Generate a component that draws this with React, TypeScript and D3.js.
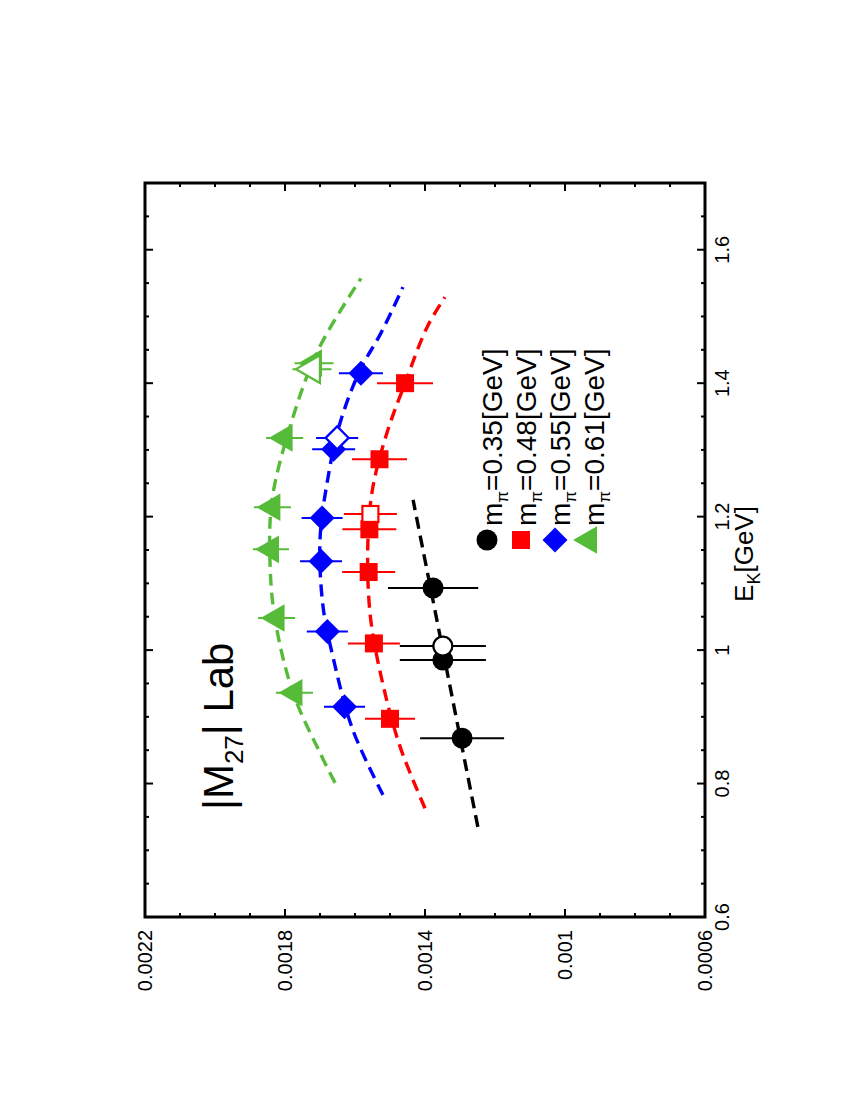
import * as d3 from 'd3'

// plot box in the un-rotated frame (E_K along x, |M27| along y)
const W = 734
const H = 560

const eTicks = [0.6, 0.8, 1, 1.2, 1.4, 1.6]
const eTickLabels = ['0.6', '0.8', '1', '1.2', '1.4', '1.6']
const mTicks = [0.0006, 0.001, 0.0014, 0.0018, 0.0022]
const mTickLabels = ['0.0006', '0.001', '0.0014', '0.0018', '0.0022']

// m_pi = 0.35
const e35 = [0.868, 0.985, 1.093]
const m35 = [0.001294, 0.001349, 0.001377]
const err35 = [0.00012, 0.000123, 0.000129]
const e35Open = [1.006]
const m35Open = [0.001349]
const err35Open = [0.000123]
const fitE35 = [0.735, 1.225]
const fitM35 = [0.001249, 0.001434]

// m_pi = 0.48
const e48 = [0.897, 1.01, 1.117, 1.181, 1.286, 1.4]
const m48 = [0.0015, 0.001546, 0.001561, 0.001559, 0.00153, 0.001457]
const err48 = [0.0000714, 0.0000743, 0.0000757, 0.0000771, 0.0000786, 0.00008]
const e48Open = [1.204]
const m48Open = [0.001556]
const err48Open = [0.0000757]
const fitE48 = [0.763, 0.855, 0.955, 1.055, 1.165, 1.244, 1.325, 1.4, 1.484, 1.529]
const fitM48 = [0.0014, 0.001471, 0.001523, 0.001557, 0.001563, 0.001549, 0.001509, 0.001457, 0.001394, 0.001343]

// m_pi = 0.55
const e55 = [0.915, 1.028, 1.133, 1.198, 1.301, 1.415]
const m55 = [0.00163, 0.001679, 0.001697, 0.001694, 0.001661, 0.001583]
const err55 = [0.0000586, 0.0000586, 0.00006, 0.0000586, 0.0000614, 0.0000629]
const e55Open = [1.318]
const m55Open = [0.001651]
const err55Open = [0.00006]
const fitE55 = [0.783, 0.88, 0.99, 1.064, 1.165, 1.259, 1.34, 1.419, 1.475, 1.544]
const fitM55 = [0.00152, 0.001606, 0.001663, 0.001691, 0.0017, 0.001677, 0.001643, 0.001586, 0.001526, 0.001463]

// m_pi = 0.61
const e61 = [0.936, 1.048, 1.151, 1.214, 1.318, 1.43]
const m61 = [0.001773, 0.001824, 0.00184, 0.001836, 0.001801, 0.001717]
const err61 = [0.0000529, 0.0000529, 0.0000514, 0.0000529, 0.0000529, 0.0000557]
const e61Open = [1.421]
const m61Open = [0.001723]
const err61Open = [0.0000557]
const fitE61 = [0.801, 0.846, 0.936, 1.048, 1.135, 1.225, 1.334, 1.449, 1.557]
const fitM61 = [0.001657, 0.0017, 0.001777, 0.001829, 0.001843, 0.001837, 0.001786, 0.001706, 0.001583]

const legendLabels = ['0.35', '0.48', '0.55', '0.61']

type Shape = 'circle' | 'square' | 'diamond' | 'triangle'

const zip = (a: number[], b: number[], c: number[]) => a.map((v, i) => ({ e: v, m: b[i], err: c[i] }))
const pairs = (a: number[], b: number[]) => a.map((v, i) => [v, b[i]] as [number, number])

const series = [
  { shape: 'circle' as Shape, color: '#000000', pts: zip(e35, m35, err35), open: zip(e35Open, m35Open, err35Open), fit: pairs(fitE35, fitM35) },
  { shape: 'square' as Shape, color: '#ff0000', pts: zip(e48, m48, err48), open: zip(e48Open, m48Open, err48Open), fit: pairs(fitE48, fitM48) },
  { shape: 'diamond' as Shape, color: '#0000ff', pts: zip(e55, m55, err55), open: zip(e55Open, m55Open, err55Open), fit: pairs(fitE55, fitM55) },
  { shape: 'triangle' as Shape, color: '#57bb3a', pts: zip(e61, m61, err61), open: zip(e61Open, m61Open, err61Open), fit: pairs(fitE61, fitM61) },
]

const triPath = d3.symbol(d3.symbolTriangle, 330)() as string

function Marker({ shape, cx, cy, color, open }: { shape: Shape; cx: number; cy: number; color: string; open?: boolean }) {
  const fill = open ? '#ffffff' : color
  const stroke = open ? color : 'none'
  const sw = open ? 2.2 : 0
  const t = `translate(${cx},${cy})`
  if (shape === 'circle') return <circle cx={cx} cy={cy} r={open ? 9.5 : 10.5} fill={fill} stroke={stroke} strokeWidth={sw} />
  if (shape === 'square') {
    const s = open ? 16 : 18
    return <rect x={cx - s / 2} y={cy - s / 2} width={s} height={s} fill={fill} stroke={stroke} strokeWidth={sw} />
  }
  if (shape === 'diamond') {
    const r = open ? 11.5 : 12.5
    return <path transform={t} d={`M0,${-r}L${r},0L0,${r}L${-r},0Z`} fill={fill} stroke={stroke} strokeWidth={sw} />
  }
  return <path transform={t} d={triPath} fill={fill} stroke={stroke} strokeWidth={sw} />
}

export default function App() {
  const x = d3.scaleLinear().domain([0.6, 1.7]).range([0, W])
  const y = d3.scaleLinear().domain([0.0006, 0.0022]).range([H, 0])
  const line = d3.line<[number, number]>()
    .x(d => x(d[0]))
    .y(d => y(d[1]))
    .curve(d3.curveCatmullRom.alpha(0.5))

  const eMinor = d3.range(0.6, 1.7001, 0.05)
  const mMinor = d3.range(0.0006, 0.00220001, 0.0001)
  const isMajorE = (v: number) => eTicks.some(t => Math.abs(t - v) < 1e-6)
  const isMajorM = (v: number) => mTicks.some(t => Math.abs(t - v) < 1e-9)

  const font = 'Liberation Sans, Arial, Helvetica, sans-serif'

  return (
    <svg width={850} height={1100} style={{ position: 'absolute', left: 0, top: 0, background: '#fff' }} fontFamily={font}>
      <g transform="translate(145,917) rotate(-90)">
        {/* fits */}
        {series.map((s, i) => (
          <path key={`fit${i}`} d={line(s.fit) as string} fill="none" stroke={s.color}
            strokeWidth={3.4} strokeDasharray="12 7" />
        ))}

        {/* error bars + markers, filled first, open on top */}
        {series.map((s, i) => (
          <g key={`s${i}`}>
            {[...s.pts, ...s.open].map((p, j) => (
              <line key={j} x1={x(p.e)} x2={x(p.e)} y1={y(p.m - p.err)} y2={y(p.m + p.err)}
                stroke={s.color} strokeWidth={2} />
            ))}
            {s.pts.map((p, j) => (
              <Marker key={`f${j}`} shape={s.shape} cx={x(p.e)} cy={y(p.m)} color={s.color} />
            ))}
            {s.open.map((p, j) => (
              <Marker key={`o${j}`} shape={s.shape} cx={x(p.e)} cy={y(p.m)} color={s.color} open />
            ))}
          </g>
        ))}

        {/* frame */}
        <rect x={0} y={0} width={W} height={H} fill="none" stroke="#000" strokeWidth={3} />

        {/* ticks on all sides, pointing inward */}
        {eMinor.map((v, i) => {
          const len = isMajorE(v) ? 8 : 4
          return (
            <g key={`et${i}`} stroke="#000" strokeWidth={2}>
              <line x1={x(v)} x2={x(v)} y1={H} y2={H - len} />
              <line x1={x(v)} x2={x(v)} y1={0} y2={len} />
            </g>
          )
        })}
        {mMinor.map((v, i) => {
          const len = isMajorM(v) ? 8 : 4
          return (
            <g key={`mt${i}`} stroke="#000" strokeWidth={2}>
              <line x1={0} x2={len} y1={y(v)} y2={y(v)} />
              <line x1={W} x2={W - len} y1={y(v)} y2={y(v)} />
            </g>
          )
        })}

        {/* tick labels */}
        {eTicks.map((v, i) => (
          <text key={`el${i}`} x={x(v)} y={H + 24} textAnchor="middle" fontSize={20}>{eTickLabels[i]}</text>
        ))}
        {mTicks.map((v, i) => (
          <text key={`ml${i}`} x={-13} y={y(v) + 7} textAnchor="end" fontSize={20}>{mTickLabels[i]}</text>
        ))}

        {/* axis title */}
        <text x={363} y={H + 48} textAnchor="middle" fontSize={26}>
          E<tspan fontSize={18} dy={7}>K</tspan><tspan dy={-7}>[GeV]</tspan>
        </text>

        {/* panel label */}
        <text x={107} y={88} fontSize={42}>
          |M<tspan fontSize={26} dy={10}>27</tspan><tspan dy={-10}>| Lab</tspan>
        </text>

        {/* legend */}
        {series.map((s, i) => (
          <g key={`lg${i}`}>
            <Marker shape={s.shape} cx={377} cy={342 + 34 * i} color={s.color} />
            <text x={391} y={357 + 34 * i} fontSize={28}>
              m<tspan fontSize={17} dy={6}>π</tspan><tspan dy={-6}>={legendLabels[i]}[GeV]</tspan>
            </text>
          </g>
        ))}
      </g>
    </svg>
  )
}
